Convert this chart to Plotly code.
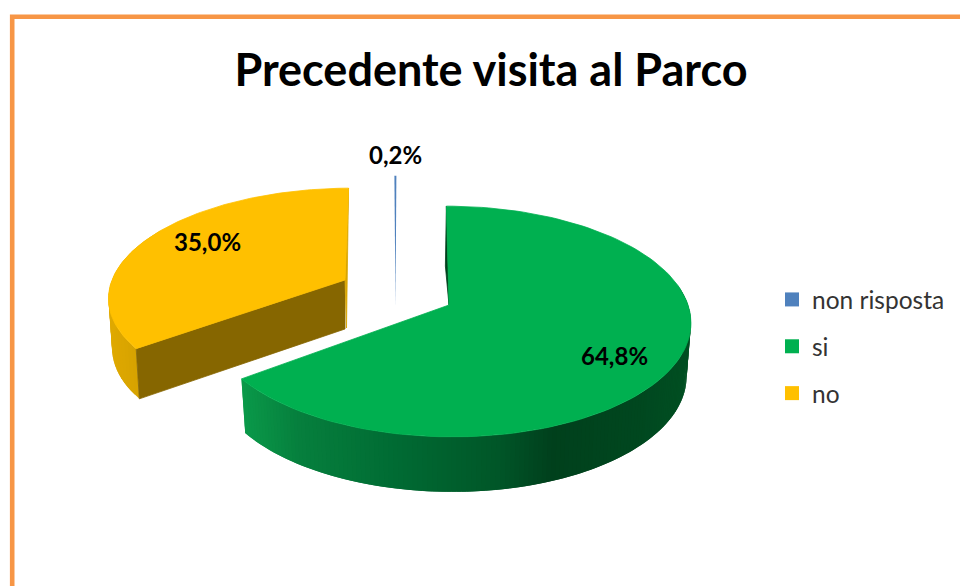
import math
import plotly.graph_objects as go

# ---- data ----
categories = ["non risposta", "si", "no"]
percent = [0.2, 64.8, 35.0]
pct_text = ["0,2%", "64,8%", "35,0%"]
colors = ["#4F81BD", "#00B050", "#FFC000"]
title = "Precedente visita al Parco"

# ---- 3D projection of each slice (pixel space of the 960x586 picture) ----
K = 0.143
geom = {
    "non risposta": dict(ax=395.5, ay=307, sx=240, sy=150, skew=1, depth=0, shrink=1.0),
    "si": dict(ax=449, ay=305, sx=239, sy=113, skew=-3, depth=53, shrink=0.982),
    "no": dict(ax=345, ay=280, sx=233, sy=105, skew=7, depth=49, shrink=0.985),
}
label_pos = {"non risposta": (395, 154), "si": (614, 355), "no": (207, 241)}

def project(g, deg, lower=False):
    t = math.radians(deg)
    X, Y = math.sin(t), math.cos(t)
    w = 1 + K * Y
    dx = (g["sx"] * X + g["skew"] * Y) / w
    dy = -g["sy"] * Y / w
    if lower:
        return g["ax"] + dx * g["shrink"], g["ay"] + dy + g["depth"] + 2 * max(0, -Y)
    return g["ax"] + dx, g["ay"] + dy

def arc(g, a0, a1, lower=False, n=120):
    pts = [project(g, a0 + (a1 - a0) * i / n, lower) for i in range(n + 1)]
    return [p[0] for p in pts], [p[1] for p in pts]

def hexrgb(h):
    return tuple(int(h[i:i + 2], 16) for i in (1, 3, 5))

def ramp(stops, x):
    if x <= stops[0][0]:
        return stops[0][1]
    for (x0, c0), (x1, c1) in zip(stops, stops[1:]):
        if x <= x1:
            f = (x - x0) / (x1 - x0)
            a, b = hexrgb(c0), hexrgb(c1)
            return "#%02x%02x%02x" % tuple(round(a[i] + (b[i] - a[i]) * f) for i in range(3))
    return stops[-1][1]

fig = go.Figure()

def poly(xs, ys, color, line=True):
    fig.add_trace(go.Scatter(
        x=xs, y=ys, mode="lines", fill="toself", fillcolor=color,
        line=dict(color=color, width=0.8 if line else 0),
        hoverinfo="skip", showlegend=False))

def side(g, a0, a1, stops, n=70):
    step = (a1 - a0) / n
    for i in range(n):
        s0 = a0 + step * i
        s1 = min(a1, s0 + step * 2)  # overlap the next strip so no seams show
        tx, ty = arc(g, s0, s1, n=3)
        bx, by = arc(g, s1, s0, lower=True, n=3)
        poly(tx + bx + tx[:1], ty + by + ty[:1], ramp(stops, tx[0]), line=False)

green_stops = [(241, "#0A9A4A"), (300, "#067F3D"), (400, "#006B33"), (500, "#005628"),
               (555, "#00401C"), (640, "#00471F"), (690, "#004F22")]
yellow_stops = [(105, "#E0AA00"), (140, "#D6A200")]

# slice angles come from the values; the first slice ends at 12 o'clock
angles = {}
start = -percent[0] * 3.6
for cat, p in zip(categories, percent):
    angles[cat] = (start, start + p * 3.6)
    start += p * 3.6

# yellow slice
g = geom["no"]; a0, a1 = angles["no"]
side(g, a0, 300, yellow_stops, n=30)
ex, ey = project(g, a0)
lx, ly = project(g, a0, lower=True)
poly([g["ax"], ex, lx, g["ax"], g["ax"]],
     [g["ay"], ey, ly, g["ay"] + g["depth"], g["ay"]], "#866600")
rx, ry = project(g, a1)
poly([rx, g["ax"], g["ax"] + 1.5, rx], [ry, g["ay"], g["ay"] + g["depth"] - 1, ry], "#D9A600")
xs, ys = arc(g, a0, a1)
poly([g["ax"]] + xs + [g["ax"]], [g["ay"]] + ys + [g["ay"]], colors[2])

# green slice
g = geom["si"]; a0, a1 = angles["si"]
side(g, 80, a1, green_stops, n=150)
rx, ry = project(g, a0)
poly([rx, rx - 1, g["ax"], rx], [ry, ry + 60, g["ay"], ry], "#00401C")
xs, ys = arc(g, a0, a1)
poly([g["ax"]] + xs + [g["ax"]], [g["ay"]] + ys + [g["ay"]], colors[1])

# blue slice
g = geom["non risposta"]; a0, a1 = angles["non risposta"]
xs, ys = arc(g, a0, a1, n=4)
poly([g["ax"]] + xs + [g["ax"]], [g["ay"]] + ys + [g["ay"]], colors[0], line=False)

# legend entries
for cat, col in zip(categories, colors):
    fig.add_trace(go.Scatter(
        x=[None], y=[None], mode="markers", name=cat, legendgroup=cat,
        marker=dict(symbol="square", size=14, color=col)))

# value labels
for cat, txt in zip(categories, pct_text):
    x, y = label_pos[cat]
    fig.add_annotation(x=x, y=y, text=f"<b>{txt}</b>", showarrow=False,
                       font=dict(family="Lato", size=24, color="#000000"))

fig.update_layout(
    width=960, height=586, margin=dict(l=0, r=0, t=0, b=0),
    paper_bgcolor="#FFFFFF", plot_bgcolor="#FFFFFF",
    xaxis=dict(range=[0, 960], visible=False, fixedrange=True),
    yaxis=dict(range=[586, 0], visible=False, fixedrange=True),
    title=dict(text=f"<b>{title}</b>", x=491 / 960, y=1 - 70 / 586,
               xanchor="center", yanchor="middle",
               font=dict(family="Lato", size=45, color="#000000")),
    legend=dict(x=772 / 960, y=1 - 277 / 586, xanchor="left", yanchor="top",
                tracegroupgap=12, itemwidth=30, bgcolor="rgba(0,0,0,0)",
                font=dict(family="Lato", size=24.5, color="#333333")),
    shapes=[
        dict(type="path", path="M 12.2 586 L 12.2 16.7 L 960 16.7",
             line=dict(color="#F79646", width=4.6), xref="x", yref="y"),
    ],
)
fig.write_html("out.html", config={"displayModeBar": False},
               post_script="document.body.style.margin='0';document.documentElement.style.overflow='hidden';")
